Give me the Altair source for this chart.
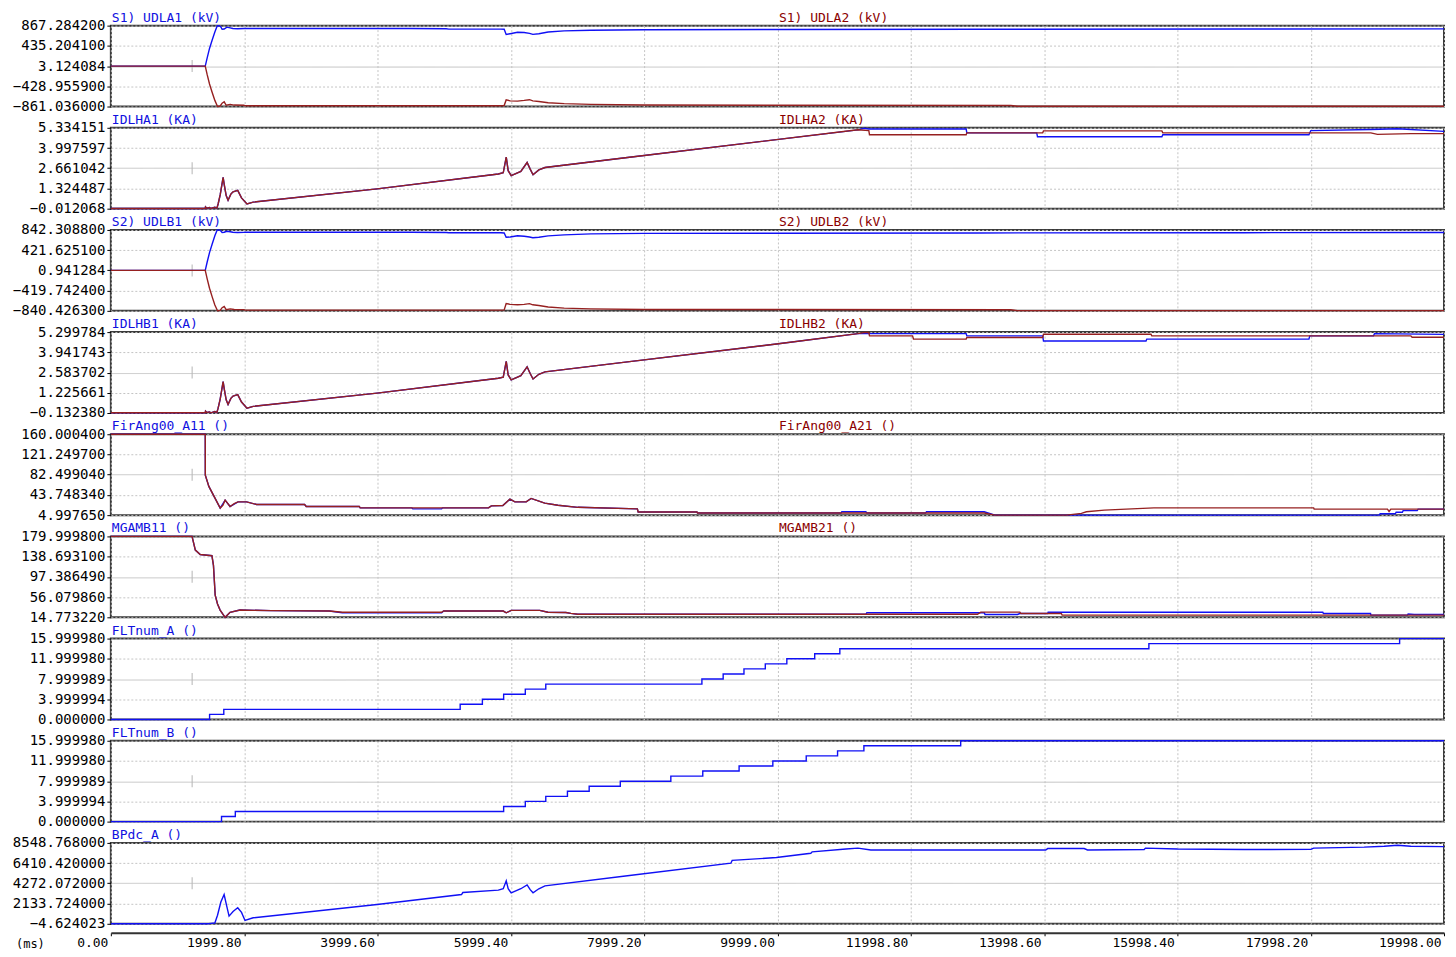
import altair as alt
import pandas as pd

BLUE = "#1010f5"
RED = "#962020"
FONT = "DejaVu Sans Mono"

T_END = 19998.0
X_TICKS = [0.0, 1999.8, 3999.6, 5999.4, 7999.2, 9999.0, 11998.8, 13998.6, 15998.4, 17998.2, 19998.0]
MARK_T = 1220.0

# ---------- panel 1 ----------
P1_TICKS = [-861.036, -428.9559, 3.124084, 435.2041, 867.2842]
UDLA1_T = [0, 1416, 1445, 1480, 1520, 1560, 1595, 1625, 1650, 1669, 1700, 1740, 1790, 1830, 1900, 1997, 2012, 4500, 5030, 5070, 5850, 5900, 5930, 5990, 6100, 6200, 6280, 6330, 6420, 6560, 6800, 7200, 8000, 10000, 13000, 17000, 19998]
UDLA1_V = [3.12, 3.12, 180, 380, 560, 730, 860, 867, 840, 790, 795, 835, 820, 805, 800, 805, 805, 805, 800, 792, 792, 790, 680, 695, 725, 720, 702, 680, 695, 730, 755, 770, 780, 785, 790, 795, 798]
UDLA2_T = [0, 1416, 1445, 1480, 1520, 1560, 1600, 1640, 1669, 1700, 1730, 1790, 1850, 1997, 2012, 5850, 5900, 5930, 5990, 6100, 6200, 6280, 6330, 6420, 6560, 6800, 7200, 8000, 13500, 13600, 19998]
UDLA2_V = [3.12, 3.12, -180, -380, -560, -730, -861, -850, -790, -760, -835, -815, -830, -835, -845, -845, -840, -720, -740, -745, -730, -715, -740, -755, -780, -800, -815, -830, -838, -855, -855]

# ---------- panel 2 ----------
P2_TICKS = [-0.012068, 1.324487, 2.661042, 3.997597, 5.334151]
IDLHA_RAMP_T = [0, 1416, 1420, 1440, 1480, 1500, 1560, 1590, 1609, 1640, 1684, 1700, 1730, 1758, 1800, 1833, 1903, 1960, 2042, 2135, 3994, 5812, 5886, 5931, 5960, 6005, 6150, 6244, 6290, 6333, 6420, 6512, 7749, 9984, 11206]
IDLHA_RAMP_V = [0, 0, 0.1, 0.02, 0.06, 0.0, 0.08, 0.02, 0.3, 0.9, 2.05, 1.6, 0.85, 0.55, 0.95, 1.1, 1.2, 0.7, 0.3, 0.42, 1.3, 2.28, 2.36, 3.4, 2.5, 2.17, 2.45, 3.04, 2.6, 2.23, 2.55, 2.71, 3.37, 4.55, 5.2]
IDLHA2_TAIL_T = [11370, 11380, 12830, 12840, 13978, 13990, 15766, 15780, 18900, 19000, 19500, 19998]
IDLHA2_TAIL_V = [5.15, 4.87, 4.87, 5.0, 5.0, 5.13, 5.13, 5.0, 5.0, 4.9, 4.95, 4.95]
IDLHA1_TAIL_T = [11300, 11370, 12830, 12840, 13889, 13900, 15766, 15780, 17972, 18000, 18900, 19300, 19998]
IDLHA1_TAIL_V = [5.3, 5.25, 5.25, 5.0, 5.0, 4.74, 4.74, 4.87, 4.87, 5.15, 5.22, 5.27, 5.1]

# ---------- panel 3 ----------
P3_TICKS = [-840.4263, -419.7424, 0.941284, 421.6251, 842.3088]
UDLB1_T = UDLA1_T
UDLB1_V = [0.94, 0.94, 175, 370, 550, 720, 842, 842, 820, 790, 795, 815, 805, 795, 790, 792, 795, 795, 790, 785, 785, 780, 690, 695, 720, 710, 695, 680, 690, 720, 740, 760, 770, 775, 780, 785, 790]
UDLB2_T = UDLA2_T
UDLB2_V = [0.94, 0.94, -175, -370, -550, -720, -840, -830, -775, -750, -815, -800, -812, -815, -825, -825, -820, -690, -705, -715, -705, -690, -715, -730, -760, -785, -800, -812, -818, -835, -835]

# ---------- panel 4 ----------
P4_TICKS = [-0.13238, 1.225661, 2.583702, 3.941743, 5.299784]
IDLHB_RAMP_T = IDLHA_RAMP_T
IDLHB_RAMP_V = [-0.12, -0.12, -0.01, -0.1, -0.06, -0.12, -0.04, -0.1, 0.19, 0.8, 1.97, 1.51, 0.75, 0.44, 0.85, 1.0, 1.1, 0.6, 0.19, 0.31, 1.2, 2.2, 2.28, 3.33, 2.42, 2.09, 2.37, 2.97, 2.52, 2.15, 2.47, 2.63, 3.3, 4.5, 5.2]
IDLHB2_TAIL_T = [11300, 11370, 11380, 12026, 12040, 12830, 12840, 13978, 13990, 15602, 15615, 19500, 19520, 19998]
IDLHB2_TAIL_V = [5.27, 5.27, 5.05, 5.05, 4.83, 4.83, 4.94, 4.94, 5.16, 5.16, 5.05, 5.05, 4.95, 4.95]
IDLHB1_TAIL_T = [11370, 12830, 12840, 13978, 13990, 15528, 15540, 17972, 17985, 18940, 18955, 19998]
IDLHB1_TAIL_V = [5.2, 5.2, 5.05, 5.05, 4.7, 4.7, 4.83, 4.83, 5.05, 5.05, 5.2, 5.15]

# ---------- panel 5 ----------
P5_TICKS = [4.99765, 43.74834, 82.49904, 121.2497, 160.0004]
FIRA21_T = [0, 1416, 1417, 1470, 1560, 1640, 1680, 1714, 1750, 1788, 1850, 1907, 2037, 2186, 2906, 2931, 3726, 3740, 5665, 5707, 5880, 5986, 6061, 6230, 6304, 6400, 6508, 6706, 7004, 7898, 7910, 8792, 8800, 13100, 13263, 14336, 14559, 14634, 14902, 15230, 15647, 18042, 18050, 19150, 19174, 19200, 19998]
FIRA21_V = [160, 160, 81.5, 60, 38, 18.6, 24, 33.7, 28, 21.6, 27, 30.4, 30.4, 25.4, 25.4, 21.6, 21.6, 18.9, 18.9, 22.8, 23.5, 35.6, 30.4, 30.4, 37, 33, 28, 24, 20, 17, 11, 11, 9, 9, 5, 5, 8.3, 11.4, 14.6, 16.6, 19, 19, 16.6, 16.6, 12, 16.6, 16.6]
FIRA11_T = [0, 1416, 1417, 1470, 1560, 1640, 1714, 1788, 1907, 2037, 2186, 2906, 2931, 3726, 3740, 4515, 4530, 4962, 4975, 5665, 5707, 5880, 5986, 6061, 6230, 6304, 6508, 6706, 7004, 7898, 7910, 8792, 8800, 10953, 10965, 11326, 11340, 12220, 12235, 13100, 13263, 19025, 19040, 19268, 19280, 19373, 19385, 19596, 19610, 19998]
FIRA11_V = [160, 160, 81.5, 60, 38, 18.6, 33.7, 21.6, 30.4, 30.4, 25.4, 25.4, 21.6, 21.6, 18.9, 18.9, 17, 17, 18.9, 18.9, 22.8, 23.5, 35.6, 30.4, 30.4, 37, 28, 24, 20, 17, 11, 11, 9, 9, 11.5, 11.5, 9, 9, 11.5, 11.5, 5, 5, 7.6, 7.6, 10.5, 10.5, 13.7, 13.7, 16.6, 16.6]

# ---------- panel 6 ----------
P6_TICKS = [14.77322, 56.07986, 97.38649, 138.6931, 179.9998]
MGAMB21_T = [0, 1218, 1267, 1341, 1516, 1539, 1565, 1600, 1639, 1714, 1788, 1937, 2400, 3278, 3472, 4962, 4992, 5886, 5931, 6005, 6433, 6557, 6825, 6900, 7004, 13000, 13050, 13635, 13650, 14257, 14270, 19998]
MGAMB21_V = [180, 180, 152, 143, 140.5, 121, 60, 42, 29.6, 14.8, 25, 29.6, 28.5, 27.6, 25, 25, 27.6, 27.6, 24, 28.9, 28.9, 25, 24.5, 22.8, 21, 21, 25.3, 25.3, 22.5, 22.5, 19.2, 19.2]
MGAMB11_T = [0, 1218, 1267, 1341, 1516, 1539, 1565, 1600, 1639, 1714, 1788, 1937, 2400, 3278, 3472, 4962, 4992, 5886, 5931, 6005, 6433, 6557, 6825, 6900, 7004, 11326, 11340, 13100, 13114, 13600, 13635, 14053, 14060, 18180, 18190, 18896, 18900, 19450, 19460, 19550, 19998]
MGAMB11_V = [180, 180, 152, 143, 140.5, 121, 60, 42, 29.6, 14.8, 25, 29.6, 28.5, 27.6, 24, 24, 27.6, 27.6, 24, 28.9, 28.9, 25, 24.5, 22.8, 21, 21, 24, 24, 20.6, 20.6, 22.5, 22.5, 25, 25, 22.5, 22.5, 19.2, 19.2, 21.5, 20.6, 20.6]

# ---------- panels 7, 8 ----------
P7_TICKS = [0.0, 3.999994, 7.999989, 11.99998, 15.99998]
FLTA_T = [0, 1481, 1694, 5240, 5573, 5892, 6217, 6524, 8866, 9185, 9497, 9817, 10140, 10558, 10935, 15571, 19332, 19998]
FLTA_V = [0, 1, 2, 3, 4, 5, 6, 7, 8, 9, 10, 11, 12, 13, 14, 15, 16, 16]
FLTB_T = [0, 1660, 1867, 5892, 6217, 6524, 6849, 7175, 7642, 8400, 8879, 9424, 9930, 10431, 10901, 11296, 12748, 19998]
FLTB_V = [0, 1, 2, 3, 4, 5, 6, 7, 8, 9, 10, 11, 12, 13, 14, 15, 16, 16]

# ---------- panel 9 ----------
P9_TICKS = [-4.624023, 2133.724, 4272.072, 6410.42, 8548.768]
BPDC_T = [0, 1460, 1500, 1560, 1600, 1650, 1699, 1740, 1773, 1833, 1903, 1960, 2012, 2135, 3994, 5260, 5280, 5812, 5886, 5931, 5960, 6005, 6150, 6244, 6290, 6333, 6420, 6512, 7749, 9300, 9320, 9984, 10500, 10520, 11027, 11206, 11400, 14023, 14053, 14600, 14650, 15500, 15520, 16000, 17000, 18002, 18042, 18800, 19100, 19300, 19500, 19998]
BPDC_V = [0, 0, 40, 80, 900, 2300, 3089, 1800, 808, 1300, 1685, 1200, 343, 629, 2033, 3089, 3300, 3553, 3700, 4540, 3700, 3267, 3700, 4113, 3600, 3267, 3700, 4000, 5069, 6400, 6700, 7000, 7450, 7600, 7900, 8000, 7800, 7800, 7950, 7950, 7800, 7850, 8000, 7900, 7850, 7860, 8000, 8100, 8200, 8300, 8200, 8150]

W = 1335
H = 81
XS = alt.Scale(domain=[0, T_END], nice=False, zero=False)


def make_panel(ticks, left_label, right_label, series, step=False, last=False):
    ys = alt.Scale(domain=[ticks[0], ticks[-1]], nice=False, zero=False)
    mid = ticks[2]
    yaxis = alt.Axis(
        values=ticks, format=".6f", title=None, grid=True, gridColor="#c4c4c4",
        gridDash={"condition": {"test": f"datum.value === {mid!r}", "value": [1, 0]}, "value": [2, 2]},
        domain=False, ticks=True, tickSize=4, tickColor="#000", labelFont=FONT, labelFontSize=14,
        labelColor="#000", labelPadding=2, labelOverlap=False, labelFlush=False, labelBound=False,
    )
    if last:
        xaxis = alt.Axis(
            values=X_TICKS, format=".2f", title=None, grid=True, gridColor="#c4c4c4", gridDash=[2, 2],
            domain=True, domainColor="#333", domainWidth=2, ticks=True, tickSize=3, tickColor="#000",
            labelAlign="right", labelOffset=-3, labelFont=FONT, labelFontSize=13, labelColor="#000",
            labelPadding=1, offset=9, labelOverlap=False, labelFlush=False, labelBound=False,
        )
    else:
        xaxis = alt.Axis(values=X_TICKS, title=None, grid=True, gridColor="#c4c4c4", gridDash=[2, 2],
                         labels=False, ticks=False, domain=False)

    def enc():
        return dict(x=alt.X("t:Q", scale=XS, axis=xaxis, title=None),
                    y=alt.Y("v:Q", scale=ys, axis=yaxis, title=None))

    layers = []
    marker = pd.DataFrame({"t": [MARK_T], "v": [mid]})
    layers.append(alt.Chart(marker).mark_tick(color="#b8b8b8", thickness=1.5, size=12, orient="vertical").encode(**enc()))
    for t, v, c in series:
        df = pd.DataFrame({"t": t, "v": v})
        layers.append(alt.Chart(df).mark_line(color=c, strokeWidth=1.4,
                                              interpolate="step-after" if step else "linear").encode(**enc()))
    lab = pd.DataFrame({"label": [left_label]})
    layers.append(alt.Chart(lab).mark_text(align="left", baseline="alphabetic", font=FONT, fontSize=13,
                                           color="#1010e0").encode(text="label:N", x=alt.value(1), y=alt.value(-4)))
    if right_label:
        lab2 = pd.DataFrame({"label": [right_label]})
        layers.append(alt.Chart(lab2).mark_text(align="left", baseline="alphabetic", font=FONT, fontSize=13,
                                                color="#8b0000").encode(text="label:N", x=alt.value(669), y=alt.value(-4)))
    if last:
        ms = pd.DataFrame({"label": ["(ms)"]})
        layers.append(alt.Chart(ms).mark_text(align="left", baseline="alphabetic", font=FONT, fontSize=12,
                                              color="#000").encode(text="label:N", x=alt.value(-95), y=alt.value(H + 24)))
    return alt.layer(*layers).properties(width=W, height=H)


panels = [
    make_panel(P1_TICKS, "S1) UDLA1  (kV)", "S1) UDLA2  (kV)",
               [(UDLA1_T, UDLA1_V, BLUE), (UDLA2_T, UDLA2_V, RED)]),
    make_panel(P2_TICKS, "IDLHA1  (KA)", "IDLHA2  (KA)",
               [(IDLHA_RAMP_T + IDLHA1_TAIL_T, IDLHA_RAMP_V + IDLHA1_TAIL_V, BLUE),
                (IDLHA_RAMP_T + IDLHA2_TAIL_T, IDLHA_RAMP_V + IDLHA2_TAIL_V, RED)]),
    make_panel(P3_TICKS, "S2) UDLB1  (kV)", "S2) UDLB2  (kV)",
               [(UDLB1_T, UDLB1_V, BLUE), (UDLB2_T, UDLB2_V, RED)]),
    make_panel(P4_TICKS, "IDLHB1  (KA)", "IDLHB2  (KA)",
               [(IDLHB_RAMP_T + IDLHB1_TAIL_T, IDLHB_RAMP_V + IDLHB1_TAIL_V, BLUE),
                (IDLHB_RAMP_T + IDLHB2_TAIL_T, IDLHB_RAMP_V + IDLHB2_TAIL_V, RED)]),
    make_panel(P5_TICKS, "FirAng00_A11  ()", "FirAng00_A21  ()",
               [(FIRA11_T, FIRA11_V, BLUE), (FIRA21_T, FIRA21_V, RED)]),
    make_panel(P6_TICKS, "MGAMB11  ()", "MGAMB21  ()",
               [(MGAMB11_T, MGAMB11_V, BLUE), (MGAMB21_T, MGAMB21_V, RED)]),
    make_panel(P7_TICKS, "FLTnum_A  ()", None, [(FLTA_T, FLTA_V, BLUE)], step=True),
    make_panel(P7_TICKS, "FLTnum_B  ()", None, [(FLTB_T, FLTB_V, BLUE)], step=True),
    make_panel(P9_TICKS, "BPdc_A  ()", None, [(BPDC_T, BPDC_V, BLUE)], last=True),
]

chart = alt.vconcat(*panels, spacing=21.3, bounds="flush").properties(
    padding={"left": 3, "top": 2, "right": 0, "bottom": 0}
).configure(background="white").configure_view(stroke="#3a3a3a", strokeWidth=2)

chart.save("out.html", embed_options={"renderer": "svg", "actions": False})
